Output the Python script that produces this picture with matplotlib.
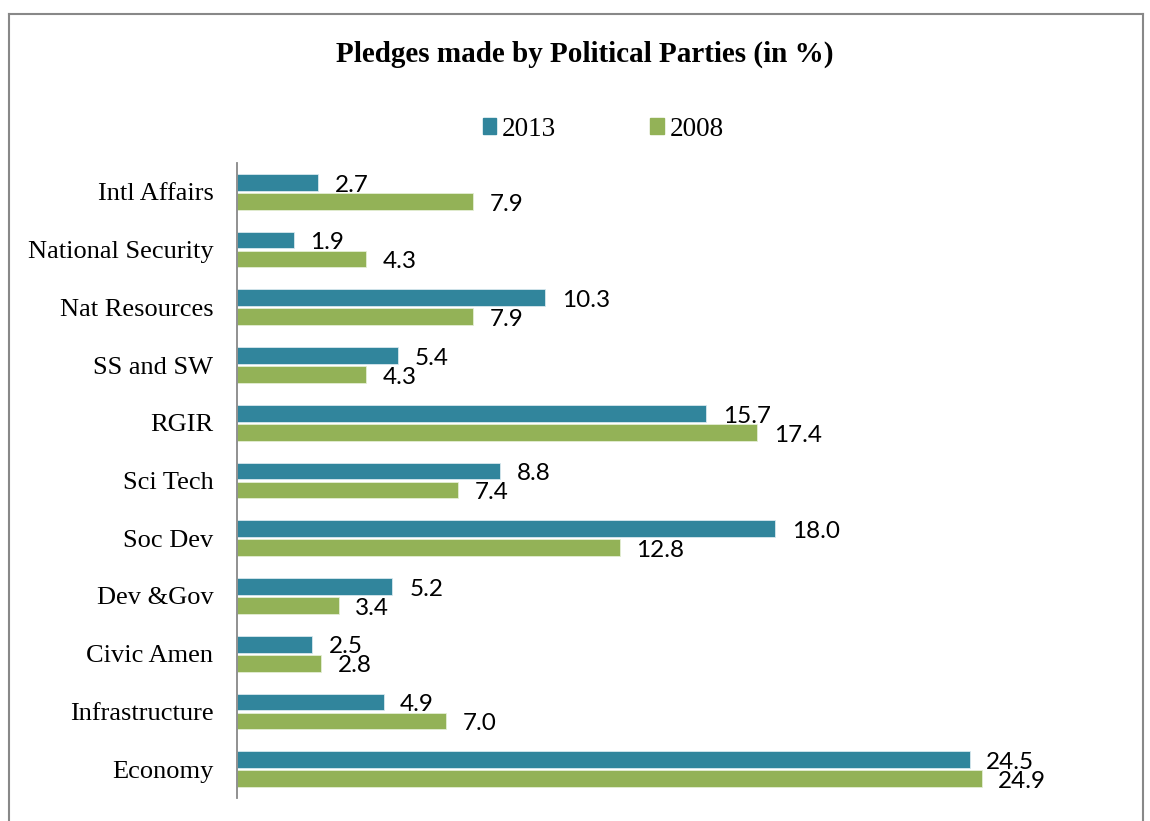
import numpy as np
import matplotlib
matplotlib.use("Agg")
import matplotlib.pyplot as plt
from matplotlib.lines import Line2D
from matplotlib.patches import Patch

# pledges by topic, top to bottom as in the chart
categories = ["Intl Affairs", "National Security", "Nat Resources", "SS and SW", "RGIR",
              "Sci Tech", "Soc Dev", "Dev &Gov", "Civic Amen", "Infrastructure", "Economy"]
vals_2013 = [2.7, 1.9, 10.3, 5.4, 15.7, 8.8, 18.0, 5.2, 2.5, 4.9, 24.5]
vals_2008 = [7.9, 4.3, 7.9, 4.3, 17.4, 7.4, 12.8, 3.4, 2.8, 7.0, 24.9]
series_names = ["2013", "2008"]

c2013 = "#31859C"
c2008 = "#93B257"
serif = "Liberation Serif"
sans = "Lato"

fig = plt.figure(figsize=(11.5, 8.21), dpi=100)
ax = fig.add_axes([0.2061, 0.028, 0.78, 0.7735])

y = np.arange(len(categories))
off = 0.165
h = 0.29
b1 = ax.barh(y - off, vals_2013, height=h, color=c2013, edgecolor="#d8e8ee", linewidth=0.6)
b2 = ax.barh(y + off, vals_2008, height=h, color=c2008, edgecolor="#e4eed4", linewidth=0.6)

# value labels at bar ends
for bars, vals in [(b1, vals_2013), (b2, vals_2008)]:
    for rect, v in zip(bars, vals):
        ax.annotate("{0:.1f}".format(v), (v, rect.get_y() + rect.get_height() / 2),
                    xytext=(12, -2), textcoords="offset points", va="center", ha="left",
                    fontsize=17.5, family=sans, color="black")

ax.set_xlim(0, 30)
ax.set_ylim(len(categories) - 0.5, -0.5)
ax.set_yticks(y)
ax.set_yticklabels(categories, family=serif, fontsize=19)
ax.tick_params(axis="y", length=0, pad=17)
ax.set_xticks([])
for s in ["top", "right", "bottom"]:
    ax.spines[s].set_visible(False)
ax.spines["left"].set_color("#888888")
ax.spines["left"].set_linewidth(1.3)

fig.text(585 / 1150, 1 - 54 / 821, "Pledges made by Political Parties (in %)",
         ha="center", va="center", family=serif, fontsize=21, fontweight="bold")

handles = [Patch(color=c2013), Patch(color=c2008)]
fig.legend(handles, series_names, loc="center", bbox_to_anchor=(603 / 1150, 1 - 129 / 821),
           ncol=2, frameon=False, prop={"family": serif, "size": 19.5},
           handlelength=0.5, handleheight=0.5, handletextpad=0.2, columnspacing=3.5)

# outer frame (bottom edge is off the picture)
frame_kw = dict(color="#888888", linewidth=1.5, transform=fig.transFigure)
xl, xr, yt = 8.5 / 1150, 1143 / 1150, 1 - 14.5 / 821
fig.add_artist(Line2D([xl, xr], [yt, yt], **frame_kw))
fig.add_artist(Line2D([xl, xl], [yt, -0.01], **frame_kw))
fig.add_artist(Line2D([xr, xr], [yt, -0.01], **frame_kw))

fig.savefig("out.png", dpi=100)
